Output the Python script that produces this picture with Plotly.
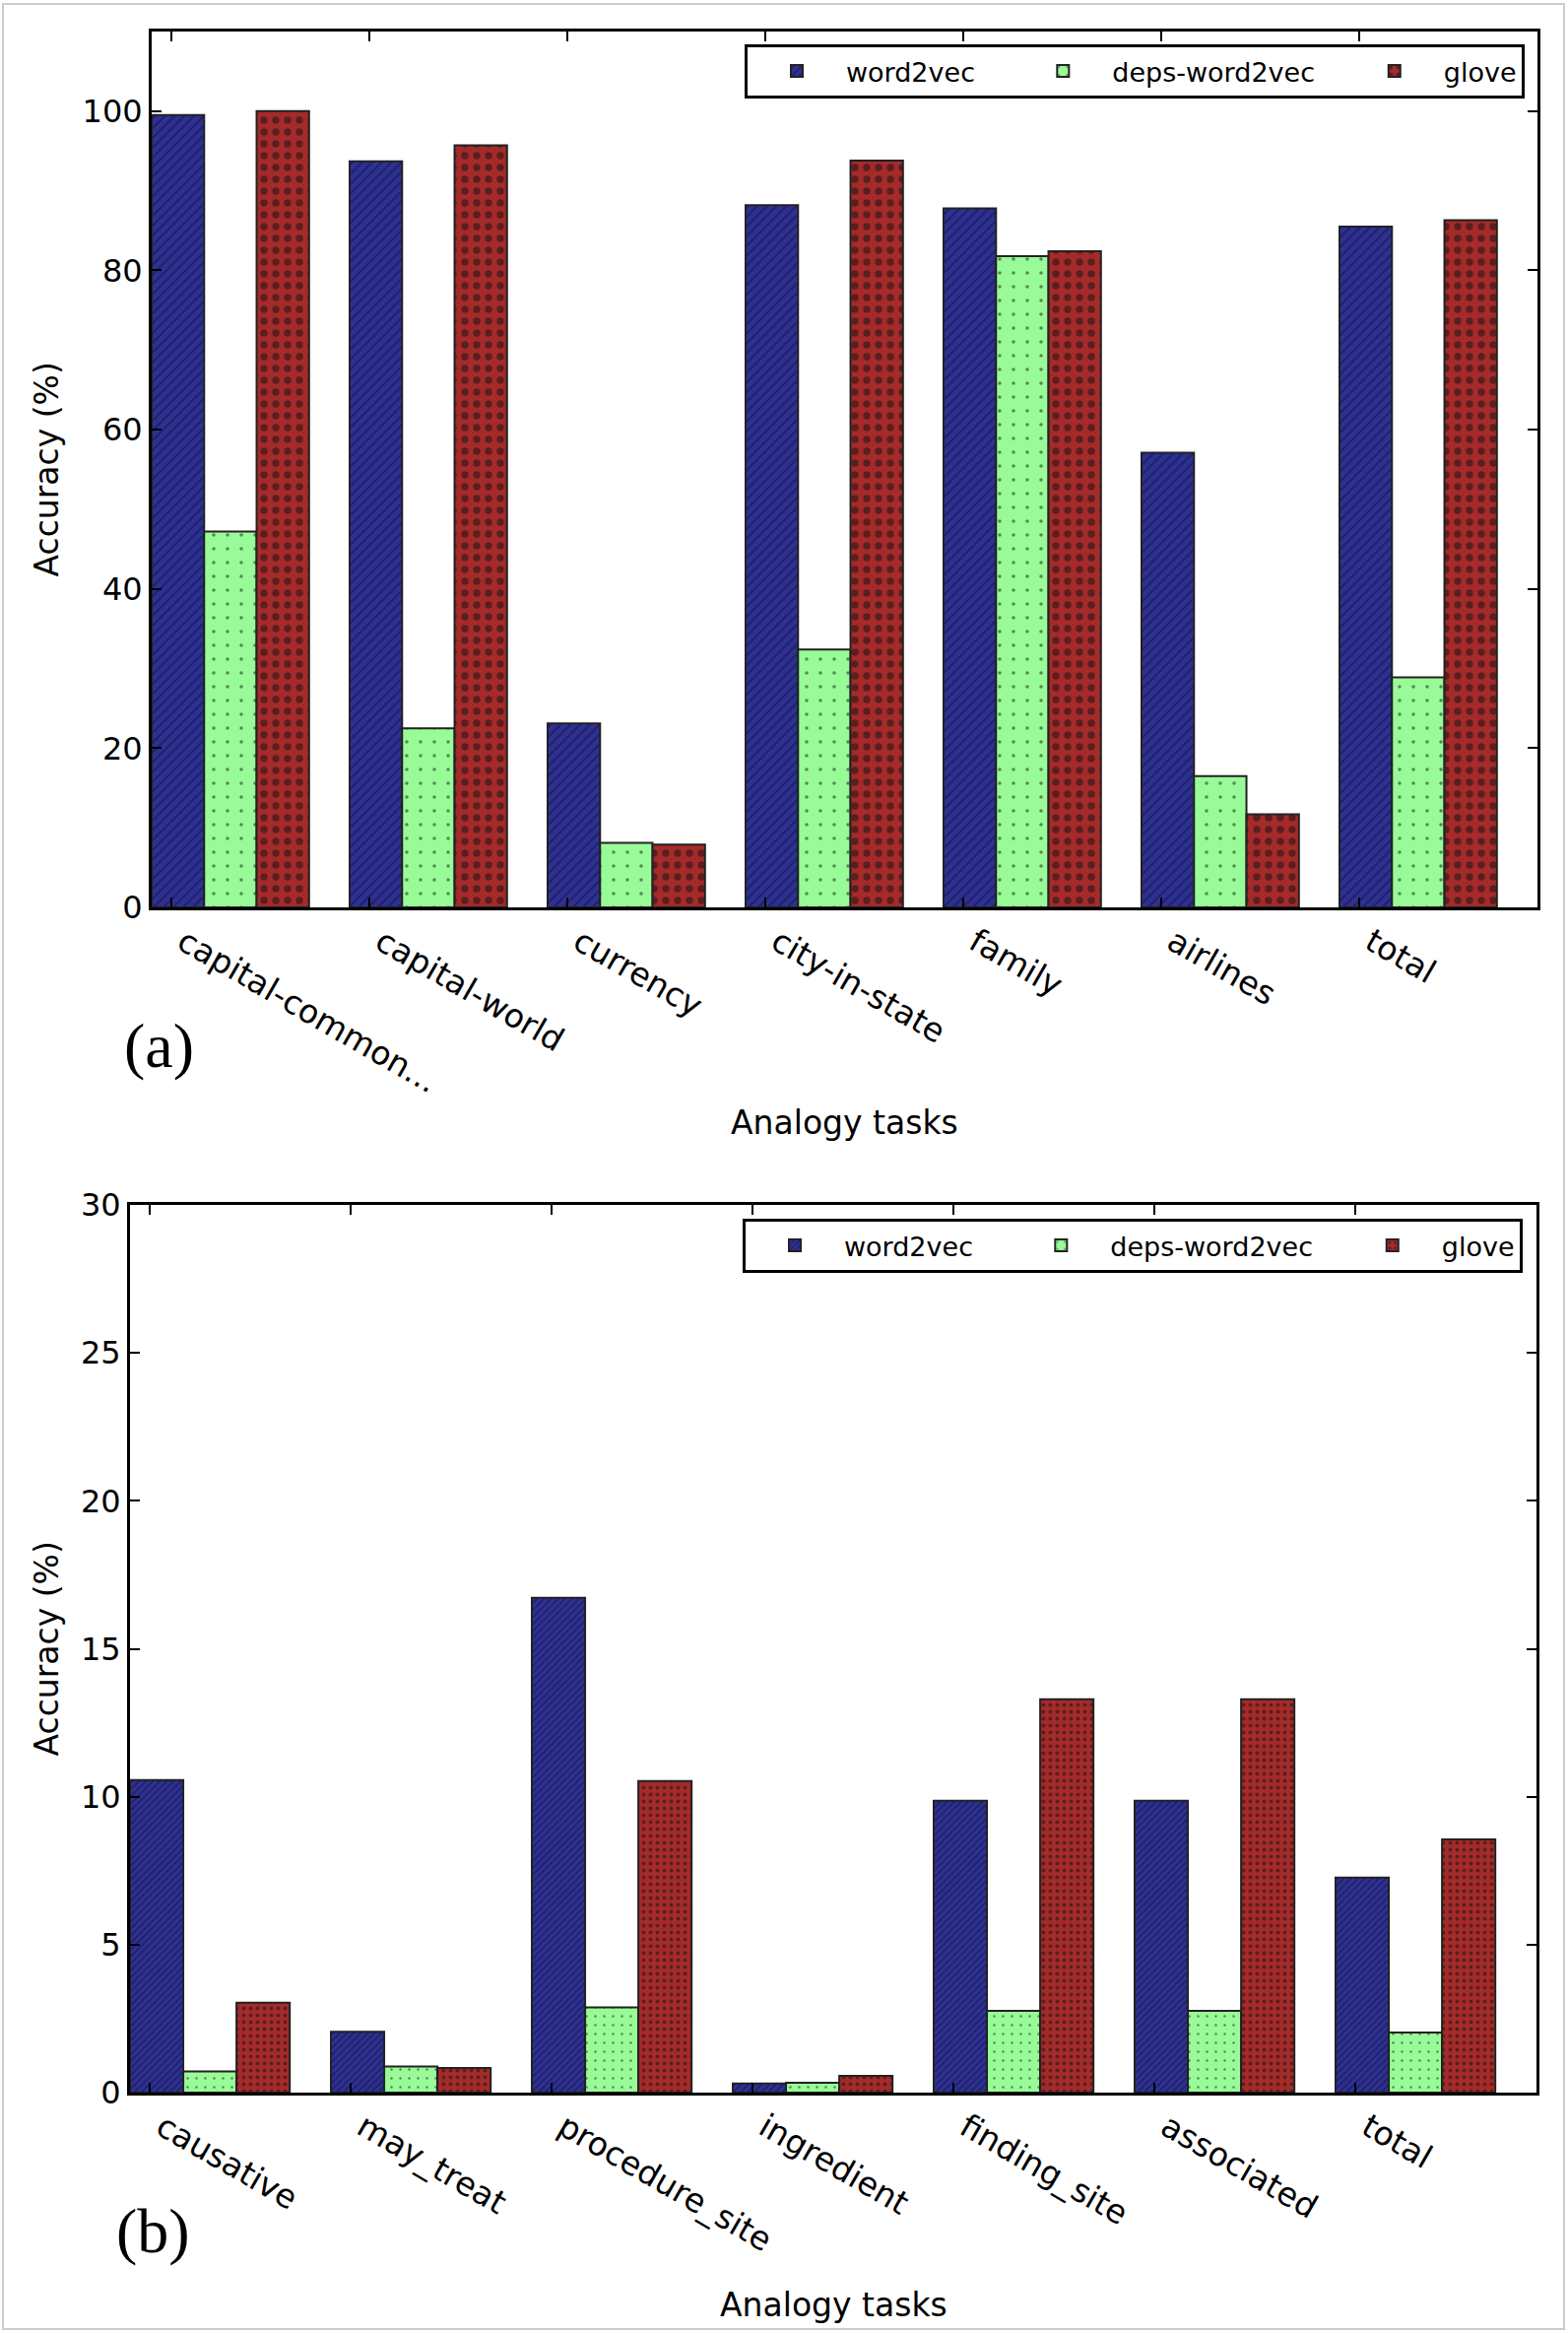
import plotly.graph_objects as go
import numpy as np

W, H = 1592, 2368

# ---------------- data ----------------
tasks_a = ["capital-common...", "capital-world", "currency", "city-in-state", "family", "airlines", "total"]
word2vec_a = [99.5, 93.7, 23.1, 88.2, 87.8, 57.1, 85.5]
deps_a = [47.2, 22.5, 8.1, 32.4, 81.8, 16.5, 28.9]
glove_a = [100.0, 95.7, 7.9, 93.8, 82.4, 11.7, 86.3]

tasks_b = ["causative", "may_treat", "procedure_site", "ingredient", "finding_site", "associated", "total"]
word2vec_b = [10.56, 2.06, 16.72, 0.31, 9.86, 9.86, 7.27]
deps_b = [0.72, 0.88, 2.88, 0.33, 2.76, 2.76, 2.03]
glove_b = [3.04, 0.83, 10.53, 0.57, 13.29, 13.29, 8.56]

series_names = ["word2vec", "deps-word2vec", "glove"]
yticks_a = [0, 20, 40, 60, 80, 100]
yticks_b = [0, 5, 10, 15, 20, 25, 30]

# ---------------- style ----------------
FONT = "DejaVu Sans"
colors = ["#2e3192", "#98fb98", "#a52a2a"]
bar_w = 0.265
edge = dict(color="#222222", width=2)
legend_pad = ["\u00a0" * 4, "\u00a0" * 3, ""]   # extra spacing between legend entries

patterns_a = [
    dict(shape="/", fgcolor="#101040", size=7, solidity=0.3),
    dict(shape=".", fgcolor="#111111", size=14, solidity=0.05),
    dict(shape=".", fgcolor="#111111", size=12, solidity=0.3),
]
patterns_b = [
    dict(shape="/", fgcolor="#101040", size=5, solidity=0.35),
    dict(shape=".", fgcolor="#111111", size=9, solidity=0.06),
    dict(shape=".", fgcolor="#111111", size=7, solidity=0.25),
]

fig = go.Figure()

ind = np.arange(len(tasks_a))
for k, (name, vals) in enumerate(zip(series_names, [word2vec_a, deps_a, glove_a])):
    fig.add_trace(go.Bar(
        x=ind, y=vals, name=name + legend_pad[k], width=bar_w, offset=k * bar_w,
        marker=dict(color=colors[k], line=edge,
                    pattern=dict(bgcolor=colors[k], fillmode="overlay", **patterns_a[k])),
        xaxis="x", yaxis="y", legend="legend",
    ))

ind_b = np.arange(len(tasks_b))
for k, (name, vals) in enumerate(zip(series_names, [word2vec_b, deps_b, glove_b])):
    fig.add_trace(go.Bar(
        x=ind_b, y=vals, name=name + legend_pad[k], width=bar_w, offset=k * bar_w,
        marker=dict(color=colors[k], line=edge,
                    pattern=dict(bgcolor=colors[k], fillmode="overlay", **patterns_b[k])),
        xaxis="x2", yaxis="y2", legend="legend2",
    ))

axis_common = dict(
    showline=True, linewidth=3, linecolor="black", mirror="allticks",
    ticks="inside", ticklen=10, tickwidth=1.5, tickcolor="black",
    showgrid=False, zeroline=False, automargin=False,
)
xfont = dict(family=FONT, size=33, color="black")
yfont = dict(family=FONT, size=32, color="black")

legend_common = dict(orientation="h", xanchor="right", yanchor="top",
                     bgcolor="white", bordercolor="black", borderwidth=3,
                     font=dict(family=FONT, size=27, color="black"), itemwidth=90)

fig.update_layout(
    template="none",
    width=W, height=H,
    margin=dict(l=0, r=0, t=0, b=0, autoexpand=False),
    paper_bgcolor="white", plot_bgcolor="white",
    font=dict(family=FONT, color="black"),
    barmode="overlay",
    xaxis=dict(domain=[154 / W, 1561 / W], range=[0, 7], anchor="y",
               tickvals=list(ind + 0.1), ticktext=tasks_a, tickangle=30,
               ticklabelshift=12, tickfont=xfont, **axis_common),
    yaxis=dict(domain=[1 - 921 / H, 1 - 32 / H], range=[0, 110], anchor="x",
               tickvals=yticks_a, tickfont=yfont, **axis_common),
    xaxis2=dict(domain=[132 / W, 1560 / W], range=[0, 7], anchor="y2",
                tickvals=list(ind_b + 0.1), ticktext=tasks_b, tickangle=30,
                ticklabelshift=12, tickfont=xfont, **axis_common),
    yaxis2=dict(domain=[1 - 2124 / H, 1 - 1223 / H], range=[0, 30], anchor="x2",
                tickvals=yticks_b, tickfont=yfont, **axis_common),
    legend=dict(x=1548 / W, y=1 - 45 / H, **legend_common),
    legend2=dict(x=1546 / W, y=1 - 1237 / H, **legend_common),
    showlegend=True,
)

annos = [
    dict(text="Analogy tasks", x=857.5 / W, y=1 - 1140 / H, font=dict(size=33)),
    dict(text="Analogy tasks", x=846 / W, y=1 - 2339 / H, font=dict(size=33)),
    dict(text="Accuracy (%)", x=47 / W, y=1 - 476.5 / H, textangle=-90, font=dict(size=33)),
    dict(text="Accuracy (%)", x=47 / W, y=1 - 1673.5 / H, textangle=-90, font=dict(size=33)),
    dict(text="(a)", x=161 / W, y=1 - 1061 / H, font=dict(size=64, family="Liberation Serif")),
    dict(text="(b)", x=155 / W, y=1 - 2264 / H, font=dict(size=64, family="Liberation Serif")),
]
for a in annos:
    f = dict(family=FONT, color="black")
    f.update(a.pop("font"))
    fig.add_annotation(xref="paper", yref="paper", xanchor="center", yanchor="middle",
                       showarrow=False, font=f, **a)

fig.add_shape(type="rect", xref="paper", yref="paper",
              x0=3 / W, x1=1588 / W, y0=1 - 2364 / H, y1=1 - 4 / H,
              line=dict(color="#cccccc", width=2), fillcolor="rgba(0,0,0,0)", layer="below")

fig.write_html("out.html")
